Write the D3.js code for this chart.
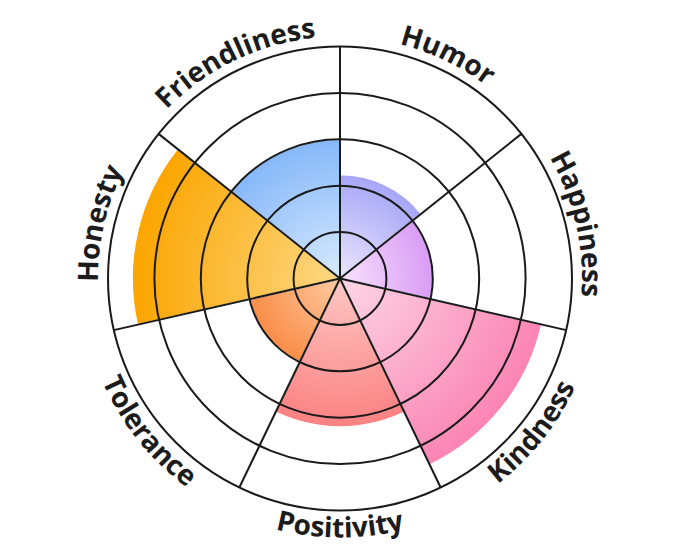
<!DOCTYPE html>
<html>
<head>
<meta charset="utf-8">
<script src="https://cdn.jsdelivr.net/npm/d3@7"></script>
<style>
  html, body { margin: 0; padding: 0; background: #fff; }
  svg { display: block; }
  .label { font-family: "Open Sans", sans-serif; font-weight: 700; font-size: 28px; fill: #1c1c1c; }
</style>
</head>
<body>
<svg id="chart" width="680" height="557"></svg>
<script>
// ─── Data ─────────────────────────────────────────────────────────────────────
const categories = ["Humor", "Happiness", "Kindness", "Positivity", "Tolerance", "Honesty", "Friendliness"];
const values     = [2.24, 2.0, 4.46, 3.2, 2.0, 4.48, 3.0];
const colorsOuter = ["#a6a6f7", "#d99cf5", "#fb84b3", "#fb8282", "#fa8d48", "#fba500", "#86b8f9"];
const colorsInner = ["#ece6fd", "#f8e2fd", "#fdd6e6", "#fdc8c4", "#fdcaa2", "#fdd985", "#d8eafe"];
const ringTicks  = [1, 2, 3, 4, 5];

// ─── Layout ───────────────────────────────────────────────────────────────────
const cx = 340, cy = 278.5;
const outerR = 232;
const step = 2 * Math.PI / categories.length;

const svg = d3.select("#chart");
const defs = svg.append("defs");
const g = svg.append("g").attr("transform", `translate(${cx},${cy})`);

const r = d3.scaleLinear().domain([0, 5]).range([0, outerR]);

// gradient per slice, centred on the chart centre
categories.forEach((c, i) => {
    const grad = defs.append("radialGradient")
        .attr("id", "grad" + i)
        .attr("gradientUnits", "userSpaceOnUse")
        .attr("cx", 0).attr("cy", 0).attr("r", r(values[i]));
    grad.append("stop").attr("offset", "0%").attr("stop-color", colorsInner[i]);
    grad.append("stop").attr("offset", "100%").attr("stop-color", colorsOuter[i]);
});

// ─── Bars ─────────────────────────────────────────────────────────────────────
const arc = d3.arc()
    .innerRadius(0)
    .outerRadius(d => r(d.value))
    .startAngle(d => d.i * step)
    .endAngle(d => (d.i + 1) * step);

g.selectAll("path.bar")
    .data(values.map((v, i) => ({ value: v, i })))
    .join("path")
    .attr("class", "bar")
    .attr("d", arc)
    .attr("fill", d => `url(#grad${d.i})`)
    .attr("stroke", "#fff")
    .attr("stroke-width", 1.5);

// ─── Grid ─────────────────────────────────────────────────────────────────────
g.selectAll("circle.ring")
    .data(ringTicks)
    .join("circle")
    .attr("class", "ring")
    .attr("r", d => r(d))
    .attr("fill", "none")
    .attr("stroke", "#1a1a1a")
    .attr("stroke-width", 2);

g.selectAll("line.spoke")
    .data(categories.map((c, i) => i * step))
    .join("line")
    .attr("class", "spoke")
    .attr("x1", 0).attr("y1", 0)
    .attr("x2", a => outerR * Math.sin(a))
    .attr("y2", a => -outerR * Math.cos(a))
    .attr("stroke", "#1a1a1a")
    .attr("stroke-width", 2);

// ─── Curved labels ────────────────────────────────────────────────────────────
const span = Math.PI / 3;
function labelPath(mid, rad, flip) {
    const a0 = mid - span, a1 = mid + span;
    const p = a => [rad * Math.sin(a), -rad * Math.cos(a)];
    const [s, e] = flip ? [p(a1), p(a0)] : [p(a0), p(a1)];
    return `M${s[0]},${s[1]} A${rad},${rad} 0 0 ${flip ? 0 : 1} ${e[0]},${e[1]}`;
}

categories.forEach((c, i) => {
    const mid = (i + 0.5) * step;
    const deg = mid * 180 / Math.PI;
    const flip = deg > 90 && deg < 270;
    defs.append("path")
        .attr("id", "lp" + i)
        .attr("d", labelPath(mid, flip ? 259 : 242, flip));
    g.append("text")
        .attr("class", "label")
        .append("textPath")
        .attr("href", "#lp" + i)
        .attr("startOffset", "50%")
        .attr("text-anchor", "middle")
        .text(c);
});
</script>
</body>
</html>
